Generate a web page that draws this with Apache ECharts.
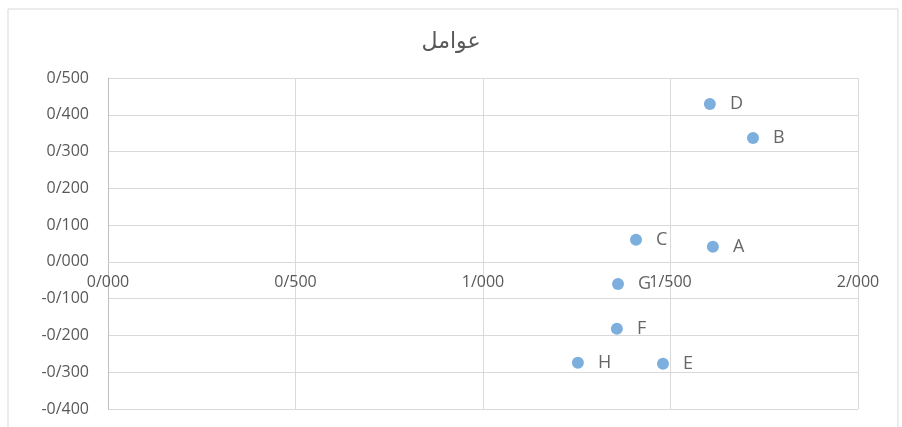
<!DOCTYPE html>
<html>
<head>
<meta charset="utf-8">
<script src="https://cdn.jsdelivr.net/npm/echarts@6/dist/echarts.min.js"></script>
<style>
  html, body { margin: 0; padding: 0; background: #fff; }
  #main { width: 902px; height: 427px; }
</style>
</head>
<body>
<div id="main"></div>
<script>
// point names and coordinates
const names = ['A', 'B', 'C', 'D', 'E', 'F', 'G', 'H'];
const xValues = [1.613, 1.720, 1.408, 1.605, 1.480, 1.357, 1.360, 1.253];
const yValues = [0.041, 0.337, 0.060, 0.429, -0.277, -0.182, -0.060, -0.274];

// Excel style with "/" as decimal mark
function fmt(v) {
  return v.toFixed(3).replace('.', '/');
}

const points = names.map(function (n, i) {
  return { name: n, value: [xValues[i], yValues[i]] };
});

const gridBottom = 18;
const chartHeight = 427;

const chart = echarts.init(document.getElementById('main'));
chart.setOption({
  animation: false,
  title: {
    text: 'عوامل',
    left: 'center',
    top: 26,
    textStyle: { fontFamily: 'DejaVu Sans', fontSize: 22, fontWeight: 'normal', color: '#595959' }
  },
  graphic: [{
    type: 'rect',
    shape: { x: 8, y: 9, width: 890, height: 440 },
    style: { fill: 'none', stroke: '#d9d9d9', lineWidth: 1 }
  }],
  grid: { left: 108, right: 44, top: 78, bottom: gridBottom, outerBoundsMode: 'none', containLabel: false },
  xAxis: {
    type: 'value',
    min: 0,
    max: 2,
    interval: 0.5,
    axisLine: { show: true, onZero: false, lineStyle: { color: '#d9d9d9' } },
    axisTick: { show: false },
    splitLine: { lineStyle: { color: '#d9d9d9' } },
    axisLabel: {
      formatter: fmt,
      color: '#595959',
      fontSize: 16,
      fontFamily: 'Open Sans',
      margin: 13,
      showMinLabel: true,
      showMaxLabel: true
    }
  },
  yAxis: {
    type: 'value',
    min: -0.4,
    max: 0.5,
    interval: 0.1,
    axisLine: { show: true, onZero: false, lineStyle: { color: '#bfbfbf' } },
    axisTick: { show: false },
    splitLine: { lineStyle: { color: '#d9d9d9' } },
    axisLabel: {
      formatter: fmt,
      color: '#595959',
      fontSize: 16,
      fontFamily: 'Open Sans',
      margin: 19
    }
  },
  series: [{
    type: 'scatter',
    data: points,
    symbolSize: 12,
    itemStyle: { color: '#5b9bd5' },
    label: {
      show: true,
      position: 'right',
      distance: 14,
      formatter: '{b}',
      color: '#404040',
      fontSize: 18,
      fontFamily: 'Open Sans'
    }
  }]
});

// move the horizontal axis (line + labels) up to y = 0, like Excel does
const zeroY = chart.convertToPixel({ yAxisIndex: 0 }, 0);
chart.setOption({ xAxis: { offset: zeroY - (chartHeight - gridBottom) } });
</script>
</body>
</html>
